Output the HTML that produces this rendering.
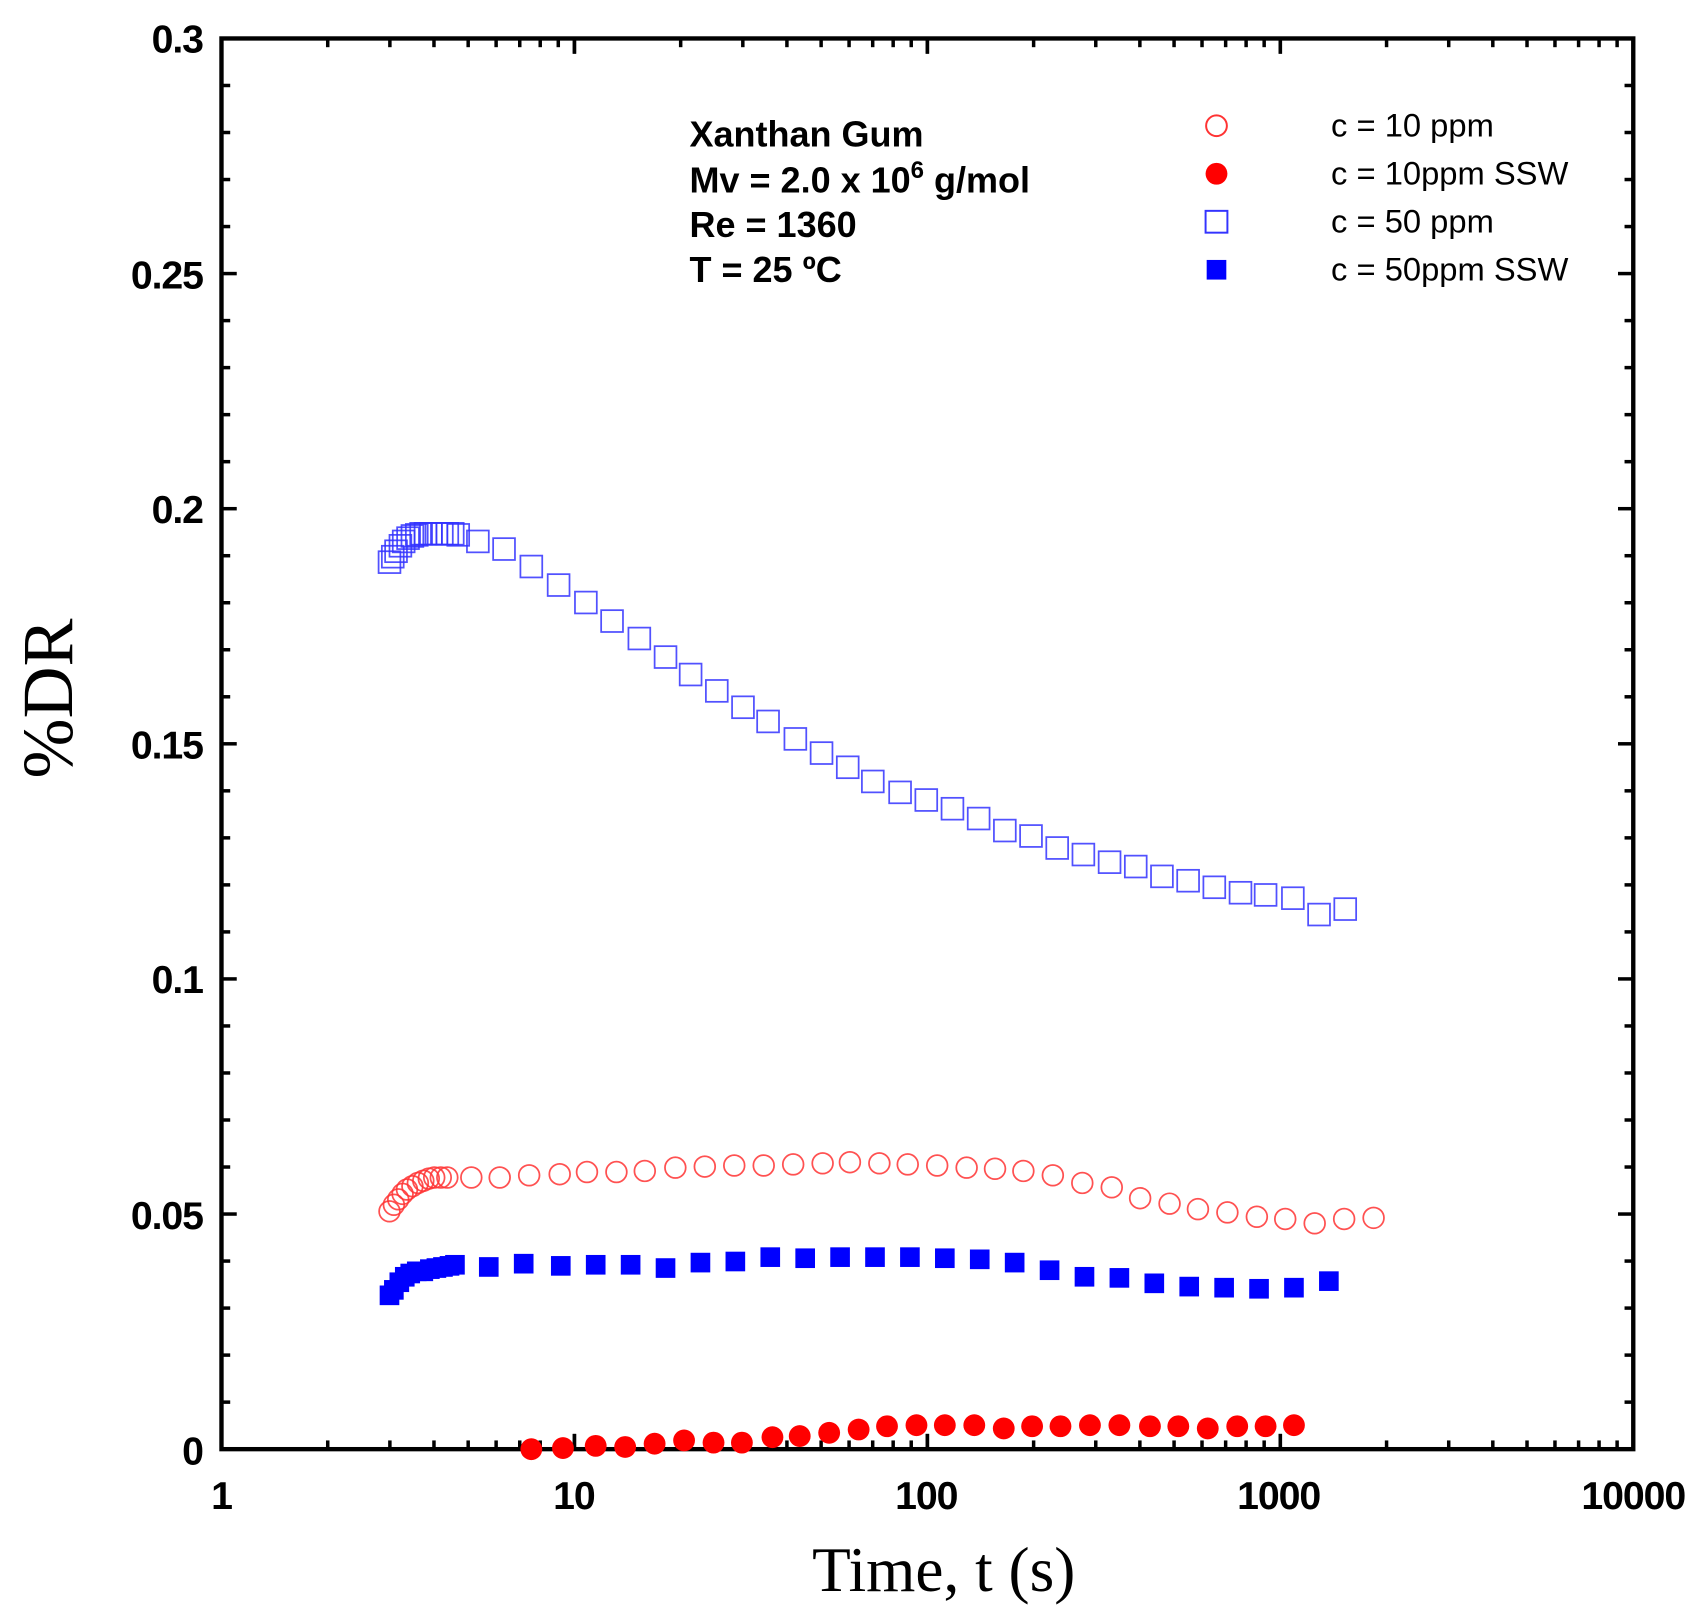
<!DOCTYPE html>
<html><head><meta charset="utf-8"><style>
html,body{margin:0;padding:0;background:#fff;}
svg{display:block;}
.t{font-family:"Liberation Sans",Arial,sans-serif;}
</style></head><body>
<svg id="s" width="1702" height="1612" viewBox="0 0 1560 1477" xmlns="http://www.w3.org/2000/svg">
<rect x="0" y="0" width="1560" height="1477" fill="#fff"/>
<g id="ticks" stroke="#000" stroke-width="3.2"></g>
<rect x="203" y="35" width="1294" height="1293" fill="none" stroke="#000" stroke-width="4"/>
<g class="t" font-size="36" font-weight="bold" text-anchor="end" fill="#000" letter-spacing="-1">
<text x="186" y="48">0.3</text>
<text x="186" y="264">0.25</text>
<text x="186" y="479">0.2</text>
<text x="186" y="695">0.15</text>
<text x="186" y="910">0.1</text>
<text x="186" y="1126">0.05</text>
<text x="186" y="1342">0</text>
</g>
<g class="t" font-size="36" font-weight="bold" text-anchor="middle" fill="#000" letter-spacing="-1">
<text x="203" y="1383">1</text>
<text x="526" y="1383">10</text>
<text x="849" y="1383">100</text>
<text x="1172" y="1383">1000</text>
<text x="1497" y="1383">10000</text>
</g>
<text x="865" y="1458" font-family="Liberation Serif,serif" font-size="58" text-anchor="middle">Time, t (s)</text>
<text transform="translate(66,640) rotate(-90)" font-family="Liberation Serif,serif" font-size="66" text-anchor="middle">%DR</text>
<g class="t" font-size="33" font-weight="bold" fill="#000">
<text x="632" y="134">Xanthan Gum</text>
<text x="632" y="176">Mv = 2.0 x 10<tspan dy="-13" font-size="22">6</tspan><tspan dy="13"> g/mol</tspan></text>
<text x="632" y="217">Re = 1360</text>
<text x="632" y="258">T = 25 ºC</text>
</g>
<g class="t" font-size="30" fill="#000">
<text x="1220" y="125">c = 10 ppm</text>
<text x="1220" y="169">c = 10ppm SSW</text>
<text x="1220" y="213">c = 50 ppm</text>
<text x="1220" y="257">c = 50ppm SSW</text>
</g>
<circle cx="1115" cy="115" r="9.5" fill="none" stroke="#f33" stroke-width="1.8"/>
<circle cx="1115" cy="159" r="10" fill="#f00"/>
<rect x="1105" y="193" width="20" height="20" fill="none" stroke="#33f" stroke-width="1.8"/>
<rect x="1106" y="238" width="18" height="18" fill="#00f"/>
<g id="d"></g>
</svg>
<script>
var NS="http://www.w3.org/2000/svg";
function el(p,n,a){var e=document.createElementNS(NS,n);for(var k in a)e.setAttribute(k,a[k]);p.appendChild(e);return e;}
var T=document.getElementById("ticks"),D=document.getElementById("d");
for(var i=0;i<=30;i++){var y=1328-i*1293/30;var L=(i%5==0)?14:8;
el(T,"line",{x1:203,y1:y,x2:203+L,y2:y});el(T,"line",{x1:1497,y1:y,x2:1497-L,y2:y});}
for(var dcd=0;dcd<4;dcd++)for(var m=1;m<=10;m++){var x=203+323.5*(dcd+Math.log10(m));var L=(m==1||m==10)?14:8;
el(T,"line",{x1:x,y1:1328,x2:x,y2:1328-L});el(T,"line",{x1:x,y1:35,x2:x,y2:35+L});}
function pts(s){return s.split(";").map(function(p){return p.split(",").map(Number);});}
var bo=pts("357,515;360,510;363,505;367,500;370,496;374,493;378,491;382,490;386,489;390,489;395,489;400,489;405,489;410,489;415,489;420,490;438,496;462,503;487,519;512,536;537,552;561,569;586,585;610,602;633,618;657,633;681,648;704,661;729,677;753,690;777,703;800,716;825,726;849,733;873,741;897,750;921,761;945,766;969,777;993,783;1017,790;1041,794;1065,803;1089,807;1113,813;1137,818;1160,820;1185,823;1209,838;1233,833");
bo.forEach(function(p){el(D,"rect",{x:p[0]-10,y:p[1]-10,width:20,height:20,fill:"none",stroke:"#33f","stroke-width":1.6,"stroke-opacity":0.85});});
var ro=pts("357,1110;361,1104;365,1099;369,1094;373,1090;378,1087;383,1084;388,1082;393,1080;398,1079;404,1079;410,1079;432,1079;458,1079;485,1077;513,1076;538,1074;565,1074;591,1073;619,1070;646,1069;673,1068;700,1068;727,1067;754,1066;779,1065;806,1066;832,1067;859,1068;886,1070;912,1071;938,1073;965,1077;992,1084;1019,1088;1045,1098;1072,1103;1098,1108;1125,1111;1152,1115;1178,1117;1205,1121;1232,1117;1259,1116");
ro.forEach(function(p){el(D,"circle",{cx:p[0],cy:p[1],r:9.5,fill:"none",stroke:"#f33","stroke-width":1.6,"stroke-opacity":0.85});});
var bf=pts("357,1187;361,1182;366,1175;371,1170;376,1167;382,1165;388,1165;394,1163;400,1162;406,1161;412,1160;417,1159;448,1161;480,1158;514,1160;546,1159;578,1159;610,1162;642,1157;674,1156;706,1152;738,1153;770,1152;802,1152;834,1152;866,1153;898,1154;930,1157;962,1164;994,1170;1026,1171;1058,1176;1090,1179;1122,1180;1154,1181;1186,1180;1218,1174");
bf.forEach(function(p){el(D,"rect",{x:p[0]-9,y:p[1]-9,width:18,height:18,fill:"#00f"});});
var rf=pts("487,1328;516,1327;546,1325;573,1326;600,1323;627,1320;654,1322;680,1322;708,1317;733,1316;760,1313;787,1310;813,1307;840,1306;866,1306;893,1306;920,1309;946,1307;972,1307;999,1306;1026,1306;1054,1307;1080,1307;1107,1309;1134,1307;1160,1307;1186,1306");
rf.forEach(function(p){el(D,"circle",{cx:p[0],cy:p[1],r:10,fill:"#f00"});});
</script>
</body></html>
